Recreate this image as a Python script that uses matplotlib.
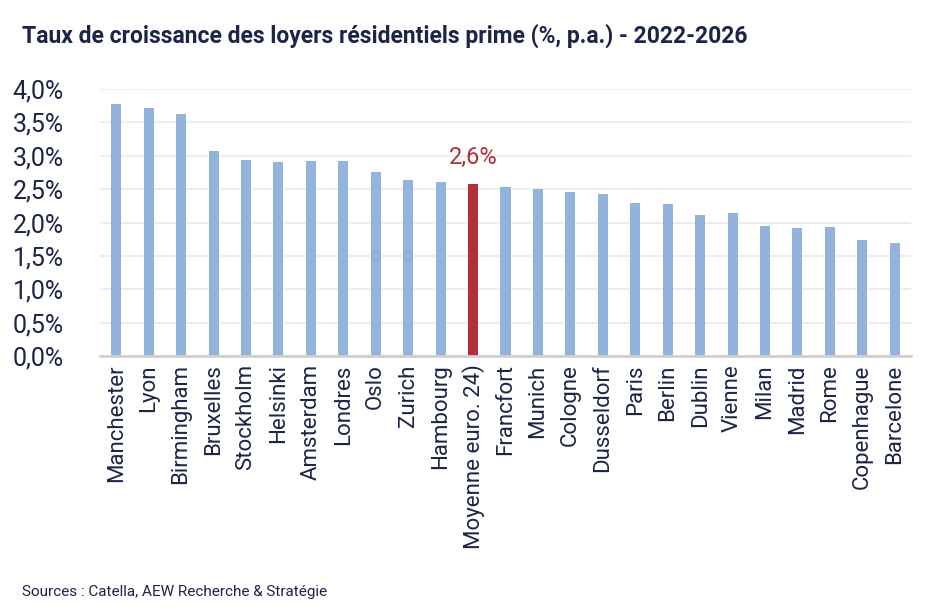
import matplotlib
matplotlib.use("Agg")
import matplotlib.pyplot as plt
from matplotlib.ticker import FuncFormatter

cities = ["Manchester", "Lyon", "Birmingham", "Bruxelles", "Stockholm", "Helsinki",
          "Amsterdam", "Londres", "Oslo", "Zurich", "Hambourg", "Moyenne euro. 24)",
          "Francfort", "Munich", "Cologne", "Dusseldorf", "Paris", "Berlin", "Dublin",
          "Vienne", "Milan", "Madrid", "Rome", "Copenhague", "Barcelone"]
growth = [3.77, 3.72, 3.62, 3.07, 2.94, 2.90, 2.92, 2.92, 2.76, 2.64, 2.61, 2.58,
          2.53, 2.50, 2.45, 2.42, 2.29, 2.27, 2.11, 2.14, 1.95, 1.92, 1.93, 1.74, 1.70]
highlight = "Moyenne euro. 24)"
highlight_label = "2,6%"
yticks = [0, 0.5, 1.0, 1.5, 2.0, 2.5, 3.0, 3.5, 4.0]

title = "Taux de croissance des loyers résidentiels prime (%, p.a.) - 2022-2026"
source = "Sources : Catella, AEW Recherche & Stratégie"

navy = "#1c2448"
blue = "#93b3dc"
red = "#b0313c"

plt.rcParams['font.family'] = ['Roboto', 'DejaVu Sans']

fig = plt.figure(figsize=(9.38, 6.16), dpi=100)
ax = fig.add_axes([100/938, 1-356/616, 811/938, (356-89)/616])

colors = [red if c == highlight else blue for c in cities]
x = list(range(len(cities)))
ax.bar(x, growth, width=0.31, color=colors, zorder=3)

hi = cities.index(highlight)
ax.text(hi, growth[hi] + 0.22, highlight_label, ha='center', va='bottom',
        color=red, fontsize=17)

ax.set_xlim(-0.5, len(cities) - 0.5)
ax.set_ylim(0, 4.0)
ax.set_yticks(yticks)
ax.yaxis.set_major_formatter(FuncFormatter(lambda v, p: f"{v:.1f}%".replace('.', ',')))
ax.set_xticks(x)
ax.set_xticklabels(cities, rotation=90, fontsize=16, color=navy)
ax.tick_params(axis='y', labelsize=18, labelcolor=navy, length=0, pad=26)
ax.tick_params(axis='x', length=0, pad=6)

ax.grid(axis='y', color='#eeeeee', linewidth=1.5, zorder=0)
ax.set_axisbelow(True)
for s in ['top', 'right', 'left']:
    ax.spines[s].set_visible(False)
ax.spines['bottom'].set_color('#d0d0d0')
ax.spines['bottom'].set_linewidth(2)
ax.spines['bottom'].set_zorder(4)

fig.text(22/938, 1-36/616, title, fontsize=16.5, fontweight='bold', color=navy,
         ha='left', va='center')
fig.text(22/938, 1-592/616, source, fontsize=11, color=navy, ha='left', va='center')

fig.savefig("out.png", dpi=100)
